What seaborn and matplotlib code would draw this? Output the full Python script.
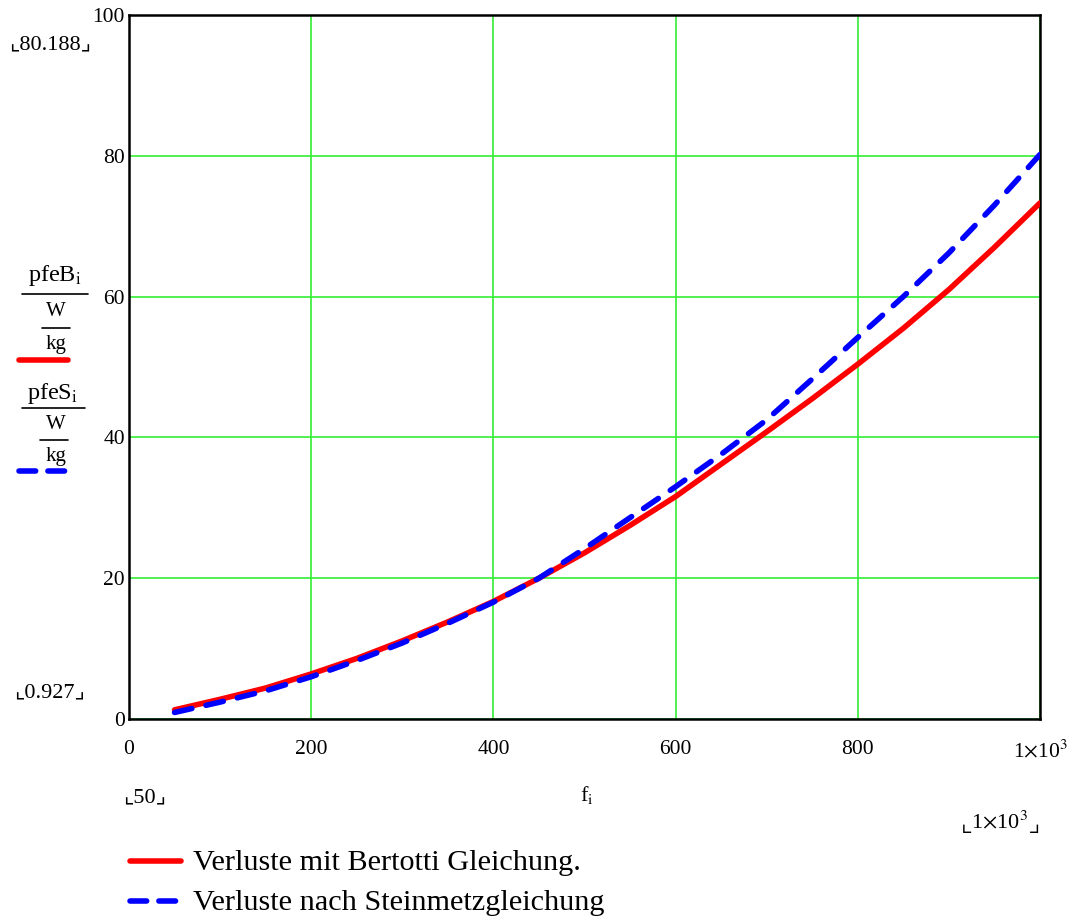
import numpy as np
import pandas as pd
import seaborn as sns
import matplotlib
matplotlib.use("Agg")
from matplotlib import pyplot as plt
from matplotlib.lines import Line2D

# frequency f_i in Hz
freq = [50, 100, 150, 200, 250, 300, 350, 400, 450, 500,
        550, 600, 650, 700, 750, 800, 850, 900, 950, 1000]
# losses (W/kg) after Bertotti
pfe_bertotti = [1.3, 2.8, 4.4, 6.4, 8.6, 11.1, 13.8, 16.7, 20.0, 23.6,
                27.5, 31.6, 36.2, 40.8, 45.5, 50.4, 55.5, 61.0, 67.0, 73.3]
# losses (W/kg) after Steinmetz
pfe_steinmetz = [0.927, 2.4, 4.0, 6.0, 8.3, 10.8, 13.6, 16.6, 20.0, 24.2,
                 28.6, 33.0, 37.6, 42.5, 48.3, 54.2, 60.0, 66.2, 73.0, 80.188]

x_ticks = [0, 200, 400, 600, 800, 1000]
x_ticklabels = ["0", "200", "400", "600", "800", r"1$\times$10$^{3}$"]
y_ticks = [0, 20, 40, 60, 80, 100]

sns.set_style("white")
plt.rcParams["font.family"] = ["Liberation Serif", "DejaVu Sans"]
plt.rcParams["mathtext.fontset"] = "stix"
plt.rcParams["text.color"] = "black"
plt.rcParams["xtick.color"] = "black"
plt.rcParams["ytick.color"] = "black"

W, H = 1073, 917
fig = plt.figure(figsize=(W / 100, H / 100), dpi=100)
ax = fig.add_axes([129 / W, 1 - 719 / H, (1040 - 129) / W, (719 - 15) / H])

df = pd.DataFrame({"f": freq, "B": pfe_bertotti, "S": pfe_steinmetz})
sns.lineplot(data=df, x="f", y="B", ax=ax, color="#ff0000", linewidth=4.0,
             solid_capstyle="round", zorder=3)
sns.lineplot(data=df, x="f", y="S", ax=ax, color="#0000ff", linewidth=4.0,
             linestyle=(0, (3.2, 2.6)), dash_capstyle="round", zorder=4)

ax.set_xlim(0, 1000)
ax.set_ylim(0, 100)
ax.set_xticks(x_ticks)
ax.set_xticklabels(x_ticklabels)
ax.set_yticks(y_ticks)
ax.tick_params(axis="x", length=0, pad=15, labelsize=15.5, labelcolor="black")
ax.tick_params(axis="y", length=0, pad=3, labelsize=15.5, labelcolor="black")
ax.set_xlabel("")
ax.set_ylabel("")
ax.grid(True, color="#33ee33", linewidth=1.2)
for s in ax.spines.values():
    s.set_color("black")
    s.set_linewidth(1.8)


def px(x, y):
    return x / W, 1 - y / H


def ftext(x, y, s, size=16, ha="center"):
    fig.text(*px(x, y), s, fontsize=size, ha=ha, va="center", color="black")


def fline(x0, x1, y, **kw):
    a, b = px(x0, y)
    c, _ = px(x1, y)
    fig.add_artist(Line2D([a, c], [b, b], transform=fig.transFigure, **kw))


# range annotations
ftext(50, 45, "⌞80.188⌟")
ftext(50, 693, "⌞0.927⌟")
ftext(145, 798, "⌞50⌟")
ftext(1000, 822, r"$\llcorner$1$\times$10$^{3}$$\lrcorner$")
ftext(587, 795, r"f$_{\mathrm{i}}$")

# stacked y-axis labels
ftext(55, 276, r"pfeB$_{\mathrm{i}}$", size=17.5)
fline(22, 88, 294, color="black", linewidth=1.2)
ftext(56, 312, "W", size=15)
fline(42, 70, 328, color="black", linewidth=1.2)
ftext(56, 345, "kg", size=15)
fline(19, 68, 360, color="#ff0000", linewidth=4.0, solid_capstyle="round")

ftext(53, 393, r"pfeS$_{\mathrm{i}}$", size=17.5)
fline(22, 85, 408, color="black", linewidth=1.2)
ftext(56, 424, "W", size=15)
fline(40, 68, 440, color="black", linewidth=1.2)
ftext(56, 456, "kg", size=15)
fline(19, 66, 471, color="#0000ff", linewidth=4.0,
      linestyle=(0, (3.0, 2.2)), dash_capstyle="round")

# legend below the plot
fline(130, 181, 861, color="#ff0000", linewidth=4.0, solid_capstyle="round")
ftext(193, 863, "Verluste mit Bertotti Gleichung.", size=21.8, ha="left")
fline(130, 181, 901, color="#0000ff", linewidth=4.0,
      linestyle=(0, (3.0, 2.2)), dash_capstyle="round")
ftext(193, 903, "Verluste nach Steinmetzgleichung", size=21.8, ha="left")

fig.savefig("out.png", dpi=100)
